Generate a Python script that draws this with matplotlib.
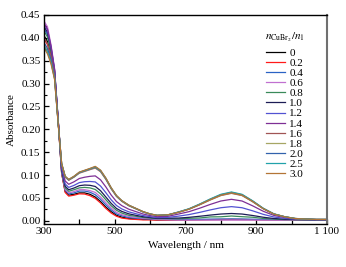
import matplotlib
matplotlib.use('Agg')
import matplotlib.pyplot as plt
from matplotlib.ticker import FixedLocator, FixedFormatter, MultipleLocator, FormatStrFormatter

plt.rcParams['font.family'] = ['Liberation Serif', 'DejaVu Serif']
plt.rcParams['mathtext.fontset'] = 'stix'

# buoc song (nm)
wavelength = [300, 310, 320, 330, 340, 350, 360, 370, 385, 400, 415, 430, 445, 460, 475, 490, 505,
              520, 540, 560, 580, 600, 620, 650, 680, 710, 740, 770, 800, 830, 860, 890, 920, 950,
              980, 1010, 1040, 1070, 1100]

ratios = ['0', '0.2', '0.4', '0.6', '0.8', '1.0', '1.2', '1.4', '1.6', '1.8', '2.0', '2.5', '3.0']

abs_0 = [0.405, 0.392, 0.3625, 0.320, 0.220, 0.105, 0.064, 0.056, 0.058, 0.061, 0.061, 0.058, 0.052,
         0.042, 0.030, 0.020, 0.012, 0.008, 0.005, 0.004, 0.003, 0.003, 0.002, 0.002, 0.0023, 0.0024,
         0.0026, 0.0028, 0.0029, 0.003, 0.0029, 0.0027, 0.0024, 0.0022, 0.0021, 0.002, 0.002, 0.002, 0.002]
abs_02 = [0.398, 0.385, 0.358, 0.317, 0.218, 0.104, 0.062, 0.054, 0.056, 0.059, 0.0585, 0.055, 0.049,
          0.039, 0.027, 0.017, 0.010, 0.006, 0.004, 0.003, 0.002, 0.002, 0.0015, 0.0015, 0.0018, 0.002,
          0.0022, 0.0025, 0.0027, 0.0028, 0.0027, 0.0025, 0.0022, 0.002, 0.0019, 0.0018, 0.0018, 0.0018, 0.0018]
abs_04 = [0.420, 0.407, 0.373, 0.326, 0.222, 0.107, 0.067, 0.059, 0.061, 0.065, 0.065, 0.0625, 0.057,
          0.047, 0.035, 0.024, 0.015, 0.011, 0.007, 0.006, 0.0044, 0.004, 0.0028, 0.0029, 0.0026, 0.0028,
          0.0031, 0.0035, 0.0038, 0.004, 0.0038, 0.0034, 0.0028, 0.0024, 0.0022, 0.0021, 0.002, 0.002, 0.002]
abs_06 = [0.437, 0.424, 0.385, 0.333, 0.224, 0.108, 0.069, 0.061, 0.064, 0.068, 0.068, 0.066, 0.062,
          0.052, 0.0395, 0.028, 0.0185, 0.0134, 0.0094, 0.0075, 0.0056, 0.0048, 0.003, 0.0022, 0.0016, 0.0015,
          0.0015, 0.0015, 0.0015, 0.0015, 0.0015, 0.0015, 0.0015, 0.0015, 0.0015, 0.0015, 0.0015, 0.0015, 0.0015]
abs_08 = [0.415, 0.402, 0.3695, 0.324, 0.221, 0.110, 0.072, 0.0645, 0.068, 0.072, 0.073, 0.072, 0.0685,
          0.059, 0.046, 0.033, 0.023, 0.017, 0.012, 0.0098, 0.0073, 0.006, 0.0045, 0.0048, 0.0043, 0.0055,
          0.0062, 0.0085, 0.0088, 0.0105, 0.009, 0.0078, 0.0051, 0.0039, 0.0027, 0.0025, 0.0022, 0.0021, 0.0021]
abs_10 = [0.425, 0.412, 0.3765, 0.328, 0.222, 0.112, 0.0756, 0.068, 0.0717, 0.0768, 0.0782, 0.0776, 0.0751,
          0.0658, 0.052, 0.0382, 0.027, 0.0206, 0.0152, 0.012, 0.009, 0.0072, 0.0055, 0.0059, 0.006, 0.0076,
          0.0099, 0.0125, 0.0148, 0.016, 0.0148, 0.0116, 0.0078, 0.005, 0.0036, 0.0027, 0.0025, 0.0022, 0.0022]
abs_12 = [0.430, 0.417, 0.380, 0.330, 0.223, 0.115, 0.0805, 0.073, 0.0775, 0.0835, 0.0855, 0.086, 0.085,
          0.076, 0.0615, 0.046, 0.0335, 0.026, 0.0195, 0.0155, 0.0115, 0.009, 0.007, 0.0075, 0.0102, 0.0136,
          0.0184, 0.0238, 0.0286, 0.031, 0.0286, 0.0218, 0.0141, 0.0083, 0.0054, 0.0035, 0.003, 0.0025, 0.0025]
abs_14 = [0.432, 0.419, 0.3814, 0.331, 0.223, 0.119, 0.0871, 0.0798, 0.0853, 0.0925, 0.0953, 0.0972, 0.0982,
          0.0896, 0.0741, 0.0564, 0.0421, 0.0332, 0.0253, 0.0201, 0.0149, 0.0114, 0.009, 0.0097, 0.0147, 0.020,
          0.0275, 0.0358, 0.0433, 0.047, 0.0433, 0.0327, 0.0208, 0.0118, 0.0073, 0.0043, 0.0035, 0.0028, 0.0028]
abs_16 = [0.400, 0.387, 0.359, 0.318, 0.217, 0.1242, 0.0957, 0.0886, 0.0954, 0.1042, 0.108, 0.1118, 0.1154,
          0.1073, 0.0905, 0.0699, 0.0533, 0.0426, 0.0328, 0.0261, 0.0193, 0.0145, 0.0116, 0.0126, 0.0184, 0.0252,
          0.0349, 0.0455, 0.0552, 0.060, 0.0552, 0.0416, 0.0262, 0.0146, 0.0088, 0.0049, 0.0039, 0.003, 0.003]
abs_18 = [0.385, 0.372, 0.3485, 0.312, 0.216, 0.1246, 0.0963, 0.0893, 0.0962, 0.1051, 0.109, 0.1129, 0.1167,
          0.1086, 0.0917, 0.071, 0.0541, 0.0433, 0.0334, 0.0265, 0.0197, 0.0148, 0.0118, 0.0128, 0.0187, 0.0256,
          0.0355, 0.0463, 0.0561, 0.061, 0.0561, 0.0423, 0.0266, 0.0148, 0.0089, 0.005, 0.0039, 0.003, 0.003]
abs_20 = [0.390, 0.377, 0.352, 0.314, 0.216, 0.1248, 0.0967, 0.0897, 0.0966, 0.1055, 0.1095, 0.1134, 0.1173,
          0.1093, 0.0924, 0.0715, 0.0546, 0.0436, 0.0337, 0.0268, 0.0198, 0.0149, 0.0119, 0.0129, 0.019, 0.026,
          0.036, 0.047, 0.057, 0.062, 0.057, 0.043, 0.027, 0.015, 0.009, 0.005, 0.004, 0.003, 0.003]
abs_25 = [0.382, 0.369, 0.346, 0.311, 0.215, 0.125, 0.097, 0.090, 0.097, 0.106, 0.110, 0.114, 0.118,
          0.110, 0.093, 0.072, 0.055, 0.044, 0.034, 0.027, 0.020, 0.015, 0.012, 0.013, 0.0193, 0.0264,
          0.0366, 0.0478, 0.0579, 0.063, 0.0579, 0.0437, 0.0274, 0.0152, 0.0091, 0.0051, 0.004, 0.003, 0.003]
abs_30 = [0.378, 0.365, 0.343, 0.309, 0.215, 0.1255, 0.0975, 0.0905, 0.0975, 0.1065, 0.1105, 0.1145, 0.119,
          0.1108, 0.0935, 0.0725, 0.0553, 0.0442, 0.0342, 0.0272, 0.0202, 0.0151, 0.0121, 0.0131, 0.0187, 0.0256,
          0.0355, 0.0463, 0.0561, 0.061, 0.0561, 0.0423, 0.0266, 0.0148, 0.0089, 0.005, 0.0039, 0.003, 0.003]

all_abs = [abs_0, abs_02, abs_04, abs_06, abs_08, abs_10, abs_12, abs_14, abs_16, abs_18, abs_20, abs_25, abs_30]

colors = ['#000000', '#ff1a1a', '#2a62c4', '#c070d0', '#3a8a5a', '#1c1c55', '#5252d2',
          '#7e2f95', '#a05454', '#a6a664', '#3262ac', '#22a2aa', '#b37536']

x_ticks = [300, 500, 700, 900, 1100]
x_ticklabels = ['300', '500', '700', '900', '1 100']

fig = plt.figure(figsize=(3.46, 2.67), dpi=100)
ax = fig.add_axes([0.127, 0.161, 0.818, 0.783])

for i in range(len(ratios)):
    ax.plot(wavelength, all_abs[i], color=colors[i], lw=0.9, label=ratios[i])

ax.set_xlim(300, 1100)
ax.set_ylim(-0.007, 0.45)

ax.xaxis.set_major_locator(FixedLocator(x_ticks))
ax.xaxis.set_major_formatter(FixedFormatter(x_ticklabels))
ax.xaxis.set_minor_locator(FixedLocator([400, 600, 800, 1000]))
ax.yaxis.set_major_locator(MultipleLocator(0.05))
ax.yaxis.set_minor_locator(MultipleLocator(0.025))
ax.yaxis.set_major_formatter(FormatStrFormatter('%.2f'))

ax.tick_params(which='both', direction='in', top=False, right=False, labelsize=8, pad=2.5)
ax.tick_params(which='major', length=3.5, width=0.9)
ax.tick_params(axis='x', which='minor', length=3.5, width=0.9)
ax.tick_params(axis='y', which='minor', length=2, width=0.8)
for s in ['left', 'bottom', 'top']:
    ax.spines[s].set_linewidth(1.0)
ax.spines['right'].set_linewidth(1.5)
ax.spines['right'].set_color('#707070')

ax.set_xlabel('Wavelength / nm', fontsize=8, labelpad=3)
ax.set_ylabel('Absorbance', fontsize=8, labelpad=4)

# tieu de chu thich dat rieng
ax.text(0.781, 0.893, r'$n_{\mathrm{CuBr_2}}/n_1$', transform=ax.transAxes,
        fontsize=8, ha='left', va='center')
leg = ax.legend(loc='upper left', bbox_to_anchor=(0.769, 0.863), frameon=False, fontsize=8,
                labelspacing=0.03, handlelength=1.75, handletextpad=0.35, borderaxespad=0.0)

fig.savefig('out.png', dpi=100)
